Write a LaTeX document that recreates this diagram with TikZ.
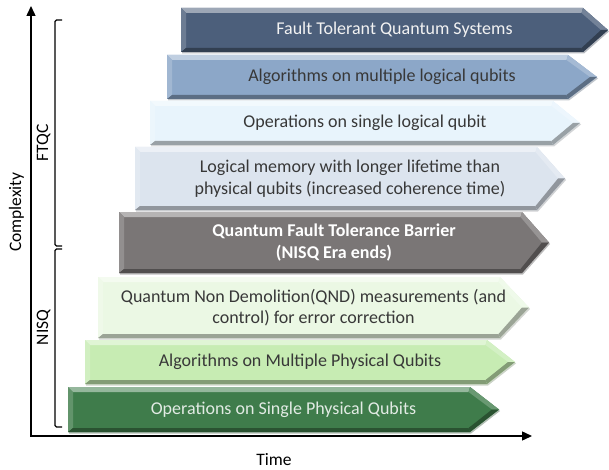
\documentclass[tikz,border=0pt]{standalone}
\usepackage{fontspec}
\setmainfont{Carlito}
\usetikzlibrary{arrows.meta}
\definecolor{c1}{HTML}{4C5F7B}
\definecolor{c2}{HTML}{8CA7C8}
\definecolor{c3}{HTML}{E8F4FC}
\definecolor{c4}{HTML}{DCE4EE}
\definecolor{c5}{HTML}{7A7676}
\definecolor{c6}{HTML}{EBF8E4}
\definecolor{c7}{HTML}{C7ECB3}
\definecolor{c8}{HTML}{3F7C4B}
\definecolor{darktxt}{HTML}{383838}
\newcommand\mystripe[9]{%
  \pgfmathsetmacro\mM{(#3+#4)/2}%
  \fill[#7!55!black,opacity=0.35] (#2+1,#3+1.5) -- (#5+1,#3+1.5) -- (#6+1,\mM+1.5) -- (#5+1,#4+1.5) -- (#2+1,#4+1.5) -- cycle;
  \fill[#7] (#2,#3) -- (#5,#3) -- (#6,\mM) -- (#5,#4) -- (#2,#4) -- cycle;
  \fill[#7!55!white] (#2,#3) -- (#5,#3) -- (#5-1.5,#3+5) -- (#2+5,#3+5) -- cycle;
  \fill[#7!82!white] (#2,#3) -- (#2+5,#3+5) -- (#2+5,#4-4) -- (#2,#4) -- cycle;
  \fill[#7!78!white] (#5,#3) -- (#6,\mM) -- (#6-7,\mM) -- (#5-1.5,#3+5) -- cycle;
  \fill[#7!66!black] (#6,\mM) -- (#5,#4) -- (#5-1.5,#4-4) -- (#6-7,\mM) -- cycle;
  \fill[#7!66!black] (#2,#4) -- (#5,#4) -- (#5-1.5,#4-4) -- (#2+5,#4-4) -- cycle;
  \node[#8] (#1) at ({(#2+#6)/2},\mM) {#9};
}
\tikzset{
  txt/.style={align=center,font=\fontsize{18}{21.5}\selectfont,text=darktxt,inner sep=0pt},
  wtxt/.style={txt,text=white!95!black},
  gtxt/.style={txt,text=white!85!c8},
  btxt/.style={txt,text=white,font=\fontsize{18}{21.5}\selectfont\bfseries},
  lbl/.style={font=\fontsize{17.5}{21}\selectfont,text=black,inner sep=0pt},
  axis/.style={line width=1.4pt,{Triangle[length=10pt,width=9pt]}-{Triangle[length=10pt,width=9pt]}},
  brk/.style={line width=1.2pt,rounded corners=1.5pt}
}
\begin{document}
\begin{tikzpicture}[x=1pt,y=-1pt]
\useasboundingbox (0,0) rectangle (609,470);
% axes
\coordinate (O) at (31,436);
\coordinate (Ytop) at (31,6);
\coordinate (Xend) at (532,436);
\draw[axis] (Ytop) -- (O) -- (Xend);
% brackets
\coordinate (f1) at (62,20);
\coordinate (f2) at (62,246);
\coordinate (n1) at (62,249);
\coordinate (n2) at (62,427);
\draw[brk] (f1) -- (55,20) -- (55,246) -- (f2);
\draw[brk] (n1) -- (55,249) -- (55,427) -- (n2);
\node[lbl,rotate=90,anchor=base] (ftqc) at (48,143) {FTQC};
\node[lbl,rotate=90,anchor=base] (nisq) at (48,327.5) {NISQ};
\node[lbl,rotate=90,anchor=base] (cx) at (21,212) {Complexity};
\node[lbl,anchor=base] (time) at (274,465) {Time};
% stripes
\mystripe{s1}{181}{8}{52}{583}{608}{c1}{wtxt}{Fault Tolerant Quantum Systems}
\mystripe{s2}{167}{55}{99}{568}{597}{c2}{txt}{Algorithms on multiple logical qubits}
\mystripe{s3}{150}{101}{145}{553}{580}{c3}{txt}{Operations on single logical qubit}
\mystripe{s4}{135}{147}{210}{537}{565}{c4}{txt}{Logical memory with longer lifetime than\\physical qubits (increased coherence time)}
\mystripe{s5}{119}{212}{273}{522}{549}{c5}{btxt}{Quantum Fault Tolerance Barrier\\(NISQ Era ends)}
\mystripe{s6}{98}{277}{338}{500}{529}{c6}{txt}{Quantum Non Demolition(QND) measurements (and\\control) for error correction}
\mystripe{s7}{85}{340}{384}{487}{515}{c7}{txt}{Algorithms on Multiple Physical Qubits}
\mystripe{s8}{68}{387}{432}{470}{499}{c8}{gtxt}{Operations on Single Physical Qubits}
\end{tikzpicture}
\end{document}
